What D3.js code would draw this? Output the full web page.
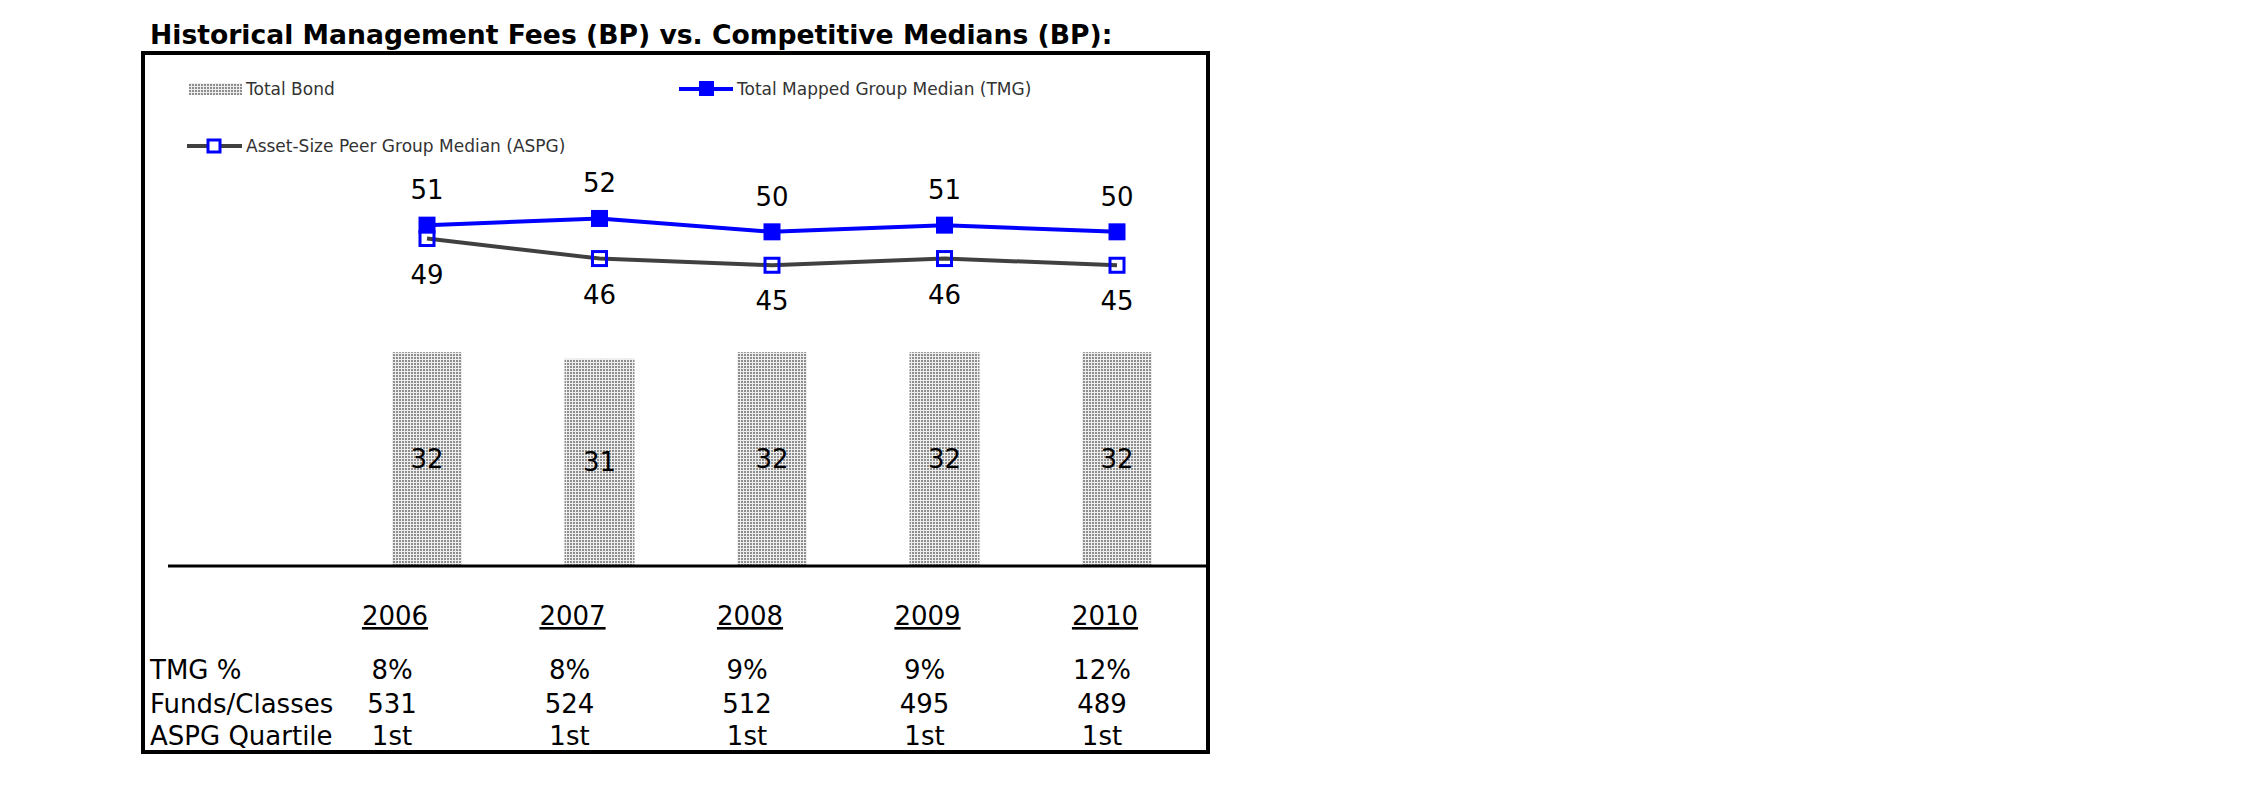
<!DOCTYPE html>
<html>
<head>
<meta charset="utf-8">
<script src="https://cdn.jsdelivr.net/npm/d3@7"></script>
<style>
  body { margin: 0; background: #fff; }
  text { font-family: "DejaVu Sans", Verdana, sans-serif; }
</style>
</head>
<body>
<div class="container"></div>
<script>
var years = ["2006", "2007", "2008", "2009", "2010"];
var totalBond = [32, 31, 32, 32, 32];
var tmgMedian = [51, 52, 50, 51, 50];
var aspgMedian = [49, 46, 45, 46, 45];
var tmgPct = ["8%", "8%", "9%", "9%", "12%"];
var fundsClasses = ["531", "524", "512", "495", "489"];
var aspgQuartile = ["1st", "1st", "1st", "1st", "1st"];
var rowLabels = ["TMG %", "Funds/Classes", "ASPG Quartile"];

var width = 2250, height = 796;

var svg = d3.select(".container")
    .append("svg")
    .attr("width", width)
    .attr("height", height);

svg.append("rect").attr("width", width).attr("height", height).attr("fill", "#fff");

// dotted fill like the old excel pattern
var pat = svg.append("defs").append("pattern")
    .attr("id", "dots")
    .attr("patternUnits", "userSpaceOnUse")
    .attr("width", 3).attr("height", 3);
pat.append("rect").attr("width", 3).attr("height", 3).attr("fill", "#eeeeee");
pat.append("rect").attr("width", 2).attr("height", 2).attr("fill", "#8e8e8e");

// title, fitted to the width of the original
var title = svg.append("text")
    .attr("x", 150).attr("y", 44)
    .style("font-weight", "bold")
    .style("font-size", "24px")
    .text("Historical Management Fees (BP) vs. Competitive Medians (BP):");
var tw = title.node().getComputedTextLength();
title.style("font-size", (24 * 963 / tw) + "px");

// frame
svg.append("rect")
    .attr("x", 143).attr("y", 53)
    .attr("width", 1065).attr("height", 699)
    .attr("fill", "none")
    .attr("stroke", "#000")
    .attr("stroke-width", 4);

var x = d3.scalePoint().domain(years).range([427, 1117]);
var y = d3.scaleLinear().domain([0, 60]).range([566, 165]);
var xt = d3.scalePoint().domain(years).range([395, 1105]);

var barW = 70;

// bars
svg.append("g")
    .selectAll("rect")
    .data(years)
    .enter()
    .append("rect")
    .attr("x", function (d) { return x(d) - barW / 2; })
    .attr("y", function (d, i) { return y(totalBond[i]); })
    .attr("width", barW)
    .attr("height", function (d, i) { return y(0) - y(totalBond[i]); })
    .attr("fill", "url(#dots)");

svg.append("g")
    .selectAll("text")
    .data(years)
    .enter()
    .append("text")
    .attr("x", function (d) { return x(d); })
    .attr("y", function (d, i) { return (y(0) + y(totalBond[i])) / 2 + 9; })
    .attr("text-anchor", "middle")
    .style("font-size", "26px")
    .text(function (d, i) { return totalBond[i]; });

// baseline
svg.append("line")
    .attr("x1", 168).attr("x2", 1208)
    .attr("y1", y(0)).attr("y2", y(0))
    .attr("stroke", "#000")
    .attr("stroke-width", 3);

var line = d3.line()
    .x(function (d, i) { return x(years[i]); })
    .y(function (d) { return y(d); });

// TMG series
svg.append("path")
    .datum(tmgMedian)
    .attr("d", line)
    .attr("fill", "none")
    .attr("stroke", "#0000ff")
    .attr("stroke-width", 4);

svg.append("g")
    .selectAll("rect")
    .data(tmgMedian)
    .enter()
    .append("rect")
    .attr("x", function (d, i) { return x(years[i]) - 8.5; })
    .attr("y", function (d) { return y(d) - 8.5; })
    .attr("width", 17).attr("height", 17)
    .attr("fill", "#0000ff");

svg.append("g")
    .selectAll("text")
    .data(tmgMedian)
    .enter()
    .append("text")
    .attr("x", function (d, i) { return x(years[i]); })
    .attr("y", function (d) { return y(d) - 26; })
    .attr("text-anchor", "middle")
    .style("font-size", "26px")
    .text(function (d) { return d; });

// ASPG series
svg.append("path")
    .datum(aspgMedian)
    .attr("d", line)
    .attr("fill", "none")
    .attr("stroke", "#404040")
    .attr("stroke-width", 4);

svg.append("g")
    .selectAll("rect")
    .data(aspgMedian)
    .enter()
    .append("rect")
    .attr("x", function (d, i) { return x(years[i]) - 7; })
    .attr("y", function (d) { return y(d) - 7; })
    .attr("width", 14).attr("height", 14)
    .attr("fill", "none")
    .attr("stroke", "#0000ff")
    .attr("stroke-width", 3);

svg.append("g")
    .selectAll("text")
    .data(aspgMedian)
    .enter()
    .append("text")
    .attr("x", function (d, i) { return x(years[i]); })
    .attr("y", function (d) { return y(d) + 45; })
    .attr("text-anchor", "middle")
    .style("font-size", "26px")
    .text(function (d) { return d; });

// legend
var leg = svg.append("g").style("font-size", "17px").attr("fill", "#333");

leg.append("rect")
    .attr("x", 189).attr("y", 83).attr("width", 53).attr("height", 12)
    .attr("fill", "url(#dots)");
leg.append("text").attr("x", 246).attr("y", 95).text("Total Bond");

leg.append("line")
    .attr("x1", 679).attr("x2", 733).attr("y1", 89).attr("y2", 89)
    .attr("stroke", "#0000ff").attr("stroke-width", 4);
leg.append("rect")
    .attr("x", 699).attr("y", 81).attr("width", 15).attr("height", 15)
    .attr("fill", "#0000ff");
leg.append("text").attr("x", 737).attr("y", 95).text("Total Mapped Group Median (TMG)");

leg.append("line")
    .attr("x1", 187).attr("x2", 242).attr("y1", 146).attr("y2", 146)
    .attr("stroke", "#404040").attr("stroke-width", 4);
leg.append("rect")
    .attr("x", 208).attr("y", 140).attr("width", 12).attr("height", 12)
    .attr("fill", "#fff")
    .attr("stroke", "#0000ff").attr("stroke-width", 3);
leg.append("text").attr("x", 246).attr("y", 152).text("Asset-Size Peer Group Median (ASPG)");

// table under the chart
var table = svg.append("g").style("font-size", "26px").attr("fill", "#000");

table.selectAll(".yr")
    .data(years)
    .enter()
    .append("text")
    .attr("class", "yr")
    .attr("x", function (d) { return xt(d); })
    .attr("y", 625)
    .attr("text-anchor", "middle")
    .style("text-decoration", "underline")
    .text(function (d) { return d; });

var rows = [tmgPct, fundsClasses, aspgQuartile];
var rowY = [679, 713, 745];

rows.forEach(function (row, r) {
    table.append("text")
        .attr("x", 150)
        .attr("y", rowY[r])
        .text(rowLabels[r]);

    table.selectAll(".r" + r)
        .data(row)
        .enter()
        .append("text")
        .attr("class", "r" + r)
        .attr("x", function (d, i) { return xt(years[i]) - 3; })
        .attr("y", rowY[r])
        .attr("text-anchor", "middle")
        .text(function (d) { return d; });
});
</script>
</body>
</html>
